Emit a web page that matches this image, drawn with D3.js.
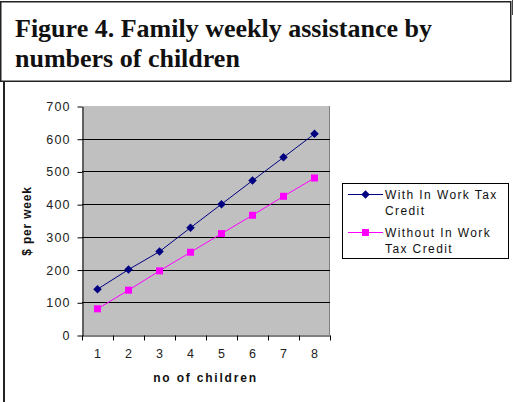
<!DOCTYPE html>
<html>
<head>
<meta charset="utf-8">
<script src="https://cdn.jsdelivr.net/npm/d3@7"></script>
<style>
  html, body { margin: 0; padding: 0; background: #fff; }
  svg { display: block; }
</style>
</head>
<body>
<svg id="chart" width="513" height="402"></svg>
<script>
// Weekly assistance by number of children
const children = [1, 2, 3, 4, 5, 6, 7, 8];
const withCredit = [140, 200, 255, 328, 400, 472, 543, 615];
const withoutCredit = [80, 137, 196, 253, 310, 366, 424, 480];
const yTicks = [0, 100, 200, 300, 400, 500, 600, 700];
const seriesNames = ["With In Work Tax Credit", "Without In Work Tax Credit"];

const svg = d3.select("#chart");

// Title box
svg.append("rect")
  .attr("x", 0.75).attr("y", 1.75).attr("width", 510).attr("height", 79.5)
  .attr("fill", "#fff").attr("stroke", "#222").attr("stroke-width", 1.5);
svg.append("line")
  .attr("x1", 512.5).attr("x2", 512.5).attr("y1", 0).attr("y2", 15)
  .attr("stroke", "#444").attr("stroke-width", 1);

const title = svg.append("text")
  .attr("font-family", "'Liberation Serif', 'Times New Roman', serif")
  .attr("font-weight", "bold").attr("font-size", 26).attr("fill", "#111");
title.append("tspan").attr("x", 15).attr("y", 37).text("Figure 4. Family weekly assistance by");
title.append("tspan").attr("x", 15).attr("y", 66.5).text("numbers of children");

// Left frame of the chart area
svg.append("line")
  .attr("x1", 4).attr("x2", 4).attr("y1", 81).attr("y2", 402)
  .attr("stroke", "#222").attr("stroke-width", 2);

// Plot area
const plot = { left: 82, right: 330, top: 106, bottom: 335 };

const x = d3.scaleBand().domain(children).range([plot.left, plot.right]);
const y = d3.scaleLinear().domain([0, 700]).range([plot.bottom, plot.top]);

svg.append("rect")
  .attr("x", plot.left).attr("y", plot.top)
  .attr("width", plot.right - plot.left).attr("height", plot.bottom - plot.top)
  .attr("fill", "#c0c0c0");
svg.append("line")
  .attr("x1", plot.right - 0.5).attr("x2", plot.right - 0.5)
  .attr("y1", plot.top).attr("y2", plot.bottom)
  .attr("stroke", "#808080").attr("stroke-width", 1);

// Gridlines
svg.append("g")
  .selectAll("line")
  .data(yTicks.filter(v => v > 0 && v < 700))
  .join("line")
  .attr("x1", plot.left).attr("x2", plot.right)
  .attr("y1", d => Math.round(y(d)) + 0.5).attr("y2", d => Math.round(y(d)) + 0.5)
  .attr("stroke", "#000").attr("stroke-width", 1);

const tickFont = "Arial, 'Liberation Sans', sans-serif";
const tickSpacing = 1.2;

// Y axis
const yAxis = svg.append("g")
  .attr("transform", `translate(${plot.left + 0.5},0.5)`)
  .call(d3.axisLeft(y).tickValues(yTicks).tickSize(5).tickSizeOuter(0).tickPadding(8));
yAxis.select(".domain").attr("stroke", "#000");
yAxis.selectAll(".tick line").attr("stroke", "#000");
yAxis.selectAll(".tick text")
  .attr("font-family", tickFont).attr("font-size", 12.5).attr("fill", "#222")
  .attr("letter-spacing", tickSpacing)
  .attr("x", -13 + tickSpacing);

// X axis with ticks at category boundaries
const xAxis = svg.append("g")
  .attr("transform", `translate(0,${plot.bottom + 0.5})`)
  .call(d3.axisBottom(x).tickSize(0).tickPadding(14));
xAxis.select(".domain").attr("stroke", "#000");
xAxis.selectAll(".tick text")
  .attr("font-family", tickFont).attr("font-size", 12.5).attr("fill", "#222");
const boundaries = children.map(d => x(d)).concat([plot.right]);
xAxis.append("g").selectAll("line")
  .data(boundaries)
  .join("line")
  .attr("x1", d => Math.round(d) + 0.5).attr("x2", d => Math.round(d) + 0.5)
  .attr("y1", 0).attr("y2", 5)
  .attr("stroke", "#000");

// Axis titles
svg.append("text")
  .attr("transform", `translate(31,${(plot.top + plot.bottom) / 2 + 0.5}) rotate(-90)`)
  .attr("text-anchor", "middle")
  .attr("font-family", tickFont).attr("font-weight", "bold").attr("font-size", 12)
  .attr("letter-spacing", 0.8).attr("fill", "#111")
  .text("$ per week");
svg.append("text")
  .attr("x", 205.5).attr("y", 382)
  .attr("text-anchor", "middle")
  .attr("font-family", tickFont).attr("font-weight", "bold").attr("font-size", 12)
  .attr("letter-spacing", 1.8).attr("fill", "#111")
  .text("no of children");

// Series lines and markers
const cx = d => x(d) + x.bandwidth() / 2;
const line = d3.line().x(d => cx(d[0])).y(d => y(d[1]));

const s1 = children.map((c, i) => [c, withCredit[i]]);
const s2 = children.map((c, i) => [c, withoutCredit[i]]);

svg.append("path").datum(s2).attr("d", line)
  .attr("fill", "none").attr("stroke", "#ff00ff").attr("stroke-width", 1);
svg.append("path").datum(s1).attr("d", line)
  .attr("fill", "none").attr("stroke", "#000080").attr("stroke-width", 1);

const diamond = d3.symbol().type(d3.symbolDiamond2).size(46);
svg.append("g").selectAll("path")
  .data(s1).join("path")
  .attr("d", diamond)
  .attr("transform", d => `translate(${cx(d[0])},${y(d[1])})`)
  .attr("fill", "#000080");
svg.append("g").selectAll("rect")
  .data(s2).join("rect")
  .attr("x", d => cx(d[0]) - 3.5).attr("y", d => y(d[1]) - 3.5)
  .attr("width", 7).attr("height", 7)
  .attr("fill", "#ff00ff");

// Legend
const legend = svg.append("g");
legend.append("rect")
  .attr("x", 342.5).attr("y", 183.5).attr("width", 166).attr("height", 75)
  .attr("fill", "#fff").attr("stroke", "#000").attr("stroke-width", 1);

const legendItems = [
  { name: seriesNames[0], lines: ["With In Work Tax", "Credit"], color: "#000080", marker: "diamond", y: 194 },
  { name: seriesNames[1], lines: ["Without In Work", "Tax Credit"], color: "#ff00ff", marker: "square", y: 232 }
];
legendItems.forEach(item => {
  legend.append("line")
    .attr("x1", 348).attr("x2", 383).attr("y1", item.y + 0.5).attr("y2", item.y + 0.5)
    .attr("stroke", item.color).attr("stroke-width", 1);
  if (item.marker === "diamond") {
    legend.append("path").attr("d", diamond)
      .attr("transform", `translate(365.5,${item.y + 0.5})`).attr("fill", item.color);
  } else {
    legend.append("rect").attr("x", 362).attr("y", item.y - 3).attr("width", 7).attr("height", 7)
      .attr("fill", item.color);
  }
  const t = legend.append("text")
    .attr("font-family", tickFont).attr("font-size", 12).attr("fill", "#111")
    .attr("letter-spacing", 1.4);
  item.lines.forEach((ln, i) => {
    t.append("tspan").attr("x", 385).attr("y", item.y + 4.5 + i * 16.5).text(ln);
  });
});
</script>
</body>
</html>
